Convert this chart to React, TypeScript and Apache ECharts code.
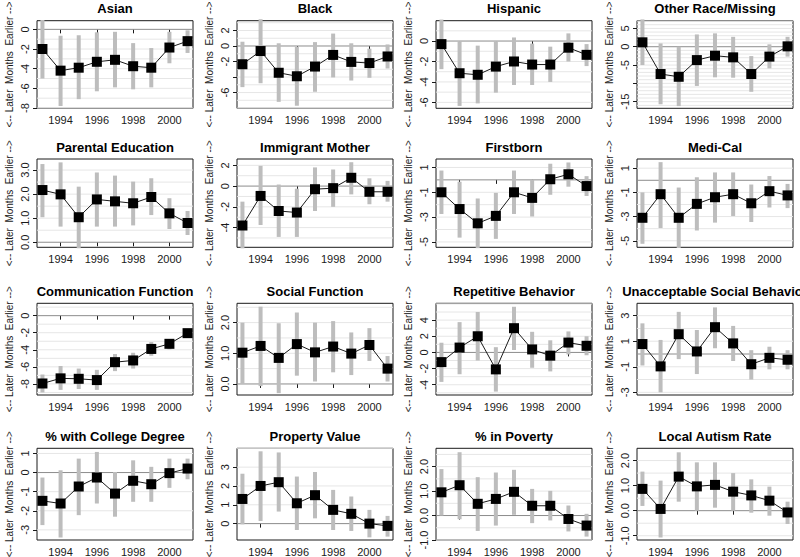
import React, { useEffect, useRef } from "react";
import * as echarts from "echarts";

const years = [1993, 1994, 1995, 1996, 1997, 1998, 1999, 2000, 2001];
const xTicks = [1994, 1996, 1998, 2000];

const asianEst = [-2.0, -4.2, -3.9, -3.3, -3.1, -3.75, -3.9, -1.85, -1.2];
const asianLo = [-5.0, -7.8, -7.1, -6.3, -5.9, -6.1, -5.9, -3.45, -2.4];
const asianHi = [0.95, -0.65, -0.6, -0.3, -0.25, -1.4, -1.9, -0.25, -0.1];

const blackEst = [-2.35, -0.65, -3.45, -3.9, -2.65, -1.15, -2.05, -2.2, -1.35];
const blackLo = [-5.3, -4.8, -7.2, -7.7, -5.9, -4.05, -4.45, -4.1, -2.9];
const blackHi = [0.55, 3.45, 0.35, -0.1, 0.5, 1.6, 0.35, -0.35, 0.2];

const hispEst = [-0.3, -3.15, -3.3, -2.5, -2.0, -2.3, -2.3, -0.65, -1.35];
const hispLo = [-2.75, -6.35, -6.1, -5.05, -4.3, -4.3, -4.0, -2.0, -2.45];
const hispHi = [2.1, 0, -0.45, 0, 0.35, -0.25, -0.55, 0.75, -0.3];

const otherEst = [1.2, -7.45, -8.2, -3.65, -2.45, -2.9, -7.45, -2.7, 0.1];
const otherLo = [-5.0, -15.7, -16.2, -10.7, -8.35, -8.45, -12.3, -5.9, -2.7];
const otherHi = [7.45, 0.9, 0, 3.35, 3.65, 2.7, -2.55, 0.65, 2.7];

const parentEst = [2.17, 1.99, 1.04, 1.78, 1.7, 1.62, 1.88, 1.2, 0.8];
const parentLo = [1.04, 0.65, -0.25, 0.65, 0.65, 0.7, 1.13, 0.55, 0.3];
const parentHi = [3.25, 3.32, 2.31, 2.9, 2.77, 2.52, 2.66, 1.83, 1.3];

const immigEst = [-3.8, -0.95, -2.4, -2.55, -0.3, -0.2, 0.8, -0.55, -0.55];
const immigLo = [-6.0, -3.75, -4.9, -4.9, -2.4, -2.0, -0.8, -1.75, -1.5];
const immigHi = [-1.5, 1.95, 0.15, -0.25, 1.8, 1.6, 2.3, 0.75, 0.5];

const firstEst = [-1.0, -2.35, -3.5, -2.9, -1.0, -1.45, 0.05, 0.45, -0.5];
const firstLo = [-2.75, -4.65, -5.5, -4.75, -2.75, -2.95, -1.2, -0.55, -1.3];
const firstHi = [0.75, -0.15, -1.5, -1.05, 0.75, 0, 1.3, 1.4, 0.3];

const mediEst = [-3.1, -1.15, -3.1, -1.95, -1.4, -1.15, -1.9, -0.9, -1.25];
const mediLo = [-5.25, -3.95, -5.6, -4.15, -3.5, -2.95, -3.45, -2.25, -2.3];
const mediHi = [-1.0, 1.5, -0.6, 0.25, 0.65, 0.65, -0.35, 0.35, -0.3];

const commEst = [-7.95, -7.35, -7.4, -7.55, -5.45, -5.25, -3.9, -3.3, -2.05];
const commLo = [-9.0, -8.7, -8.6, -8.7, -6.5, -6.2, -4.7, -3.95, -2.55];
const commHi = [-6.9, -5.9, -6.2, -6.35, -4.5, -4.35, -3.1, -2.75, -1.7];

const socEst = [1.02, 1.24, 0.85, 1.3, 1.03, 1.22, 0.99, 1.27, 0.5];
const socLo = [0, -0.07, -0.3, 0.27, 0.08, 0.38, 0.29, 0.75, 0.08];
const socHi = [2.0, 2.52, 1.98, 2.33, 2.0, 2.05, 1.68, 1.82, 0.91];

const repEst = [-1.2, 0.6, 2.0, -2.1, 3.0, 0.37, -0.4, 1.22, 0.82];
const repLo = [-3.65, -2.7, -1.0, -4.85, 0.3, -1.9, -2.35, -0.25, -0.35];
const repHi = [1.2, 3.75, 5.0, 0.65, 5.65, 2.55, 1.5, 2.6, 2.0];

const unaccEst = [0.78, -0.97, 1.55, 0.2, 2.1, 0.83, -0.8, -0.3, -0.45];
const unaccLo = [-0.9, -3.0, -0.4, -1.57, 0.45, -0.55, -2.0, -1.2, -1.2];
const unaccHi = [2.4, 1.1, 3.3, 1.88, 3.65, 2.2, 0.3, 0.57, 0.3];

const collEst = [-1.48, -1.62, -0.73, -0.26, -1.1, -0.43, -0.61, -0.03, 0.21];
const collLo = [-2.75, -3.4, -2.23, -1.62, -2.31, -1.53, -1.53, -0.8, -0.35];
const collHi = [-0.26, 0.12, 0.73, 1.08, 0.03, 0.64, 0.3, 0.73, 0.73];

const propEst = [1.31, 2.0, 2.2, 1.08, 1.51, 0.73, 0.52, 0.0, -0.12];
const propLo = [-0.04, 0.14, 0.64, -0.34, 0.28, -0.34, -0.39, -0.73, -0.69];
const propHi = [2.65, 3.84, 3.78, 2.5, 2.74, 1.79, 1.44, 0.73, 0.41];

const povEst = [0.95, 1.24, 0.48, 0.68, 0.97, 0.4, 0.4, -0.14, -0.41];
const povLo = [0, -0.15, -0.63, -0.41, 0.03, -0.31, -0.2, -0.65, -0.86];
const povHi = [1.9, 2.59, 1.57, 1.76, 1.87, 1.09, 1.01, 0.41, 0.07];

const autEst = [0.87, 0.07, 1.36, 0.97, 1.03, 0.76, 0.61, 0.4, -0.07];
const autLo = [0.19, -1.07, 0.36, 0, 0.12, 0, -0.08, -0.2, -0.53];
const autHi = [1.56, 1.2, 2.33, 1.93, 1.93, 1.5, 1.25, 0.96, 0.36];

type Panel = {
  title: string;
  est: number[];
  lo: number[];
  hi: number[];
  yMin: number;
  yMax: number;
  ticks: number[];
  labels: number[];
  dec: boolean;
};

const panels: Panel[] = [
  { title: "Asian", est: asianEst, lo: asianLo, hi: asianHi, yMin: -8.03, yMax: 0.88, ticks: [0, -2, -4, -6, -8], labels: [0, -2, -4, -6, -8], dec: false },
  { title: "Black", est: blackEst, lo: blackLo, hi: blackHi, yMin: -8.03, yMax: 3.26, ticks: [2, 0, -2, -4, -6], labels: [2, 0, -2, -6], dec: false },
  { title: "Hispanic", est: hispEst, lo: hispLo, hi: hispHi, yMin: -6.58, yMax: 1.99, ticks: [2, 0, -2, -4, -6], labels: [2, 0, -2, -4, -6], dec: false },
  { title: "Other Race/Missing", est: otherEst, lo: otherLo, hi: otherHi, yMin: -16.8, yMax: 7.1, ticks: [5, 0, -5, -10, -15], labels: [5, 0, -5, -15], dec: false },
  { title: "Parental Education", est: parentEst, lo: parentLo, hi: parentHi, yMin: -0.21, yMax: 3.46, ticks: [0, 1, 2, 3], labels: [0, 1, 2, 3], dec: true },
  { title: "Immigrant Mother", est: immigEst, lo: immigLo, hi: immigHi, yMin: -5.9, yMax: 2.61, ticks: [2, 0, -2, -4, -6], labels: [2, 0, -2, -4, -6], dec: false },
  { title: "Firstborn", est: firstEst, lo: firstLo, hi: firstHi, yMin: -5.43, yMax: 1.68, ticks: [1, -1, -3, -5], labels: [1, -1, -3, -5], dec: false },
  { title: "Medi-Cal", est: mediEst, lo: mediLo, hi: mediHi, yMin: -5.54, yMax: 1.76, ticks: [1, -1, -3, -5], labels: [1, -1, -3, -5], dec: false },
  { title: "Communication Function", est: commEst, lo: commLo, hi: commHi, yMin: -9.3, yMax: 1.45, ticks: [0, -2, -4, -6, -8], labels: [0, -2, -4, -6, -8], dec: false },
  { title: "Social Function", est: socEst, lo: socLo, hi: socHi, yMin: -0.36, yMax: 2.63, ticks: [0, 1, 2], labels: [0, 1, 2], dec: true },
  { title: "Repetitive Behavior", est: repEst, lo: repLo, hi: repHi, yMin: -5.27, yMax: 6.08, ticks: [4, 2, 0, -2, -4], labels: [4, 2, 0, -2, -4], dec: false },
  { title: "Unacceptable Social Behavior", est: unaccEst, lo: unaccLo, hi: unaccHi, yMin: -3.21, yMax: 3.97, ticks: [3, 1, -1, -3], labels: [3, 1, -1, -3], dec: false },
  { title: "% with College Degree", est: collEst, lo: collLo, hi: collHi, yMin: -3.53, yMax: 1.27, ticks: [1, 0, -1, -2, -3], labels: [1, 0, -1, -2, -3], dec: false },
  { title: "Property Value", est: propEst, lo: propLo, hi: propHi, yMin: -0.87, yMax: 4.0, ticks: [3, 2, 1, 0], labels: [3, 2, 1, 0], dec: false },
  { title: "% in Poverty", est: povEst, lo: povLo, hi: povHi, yMin: -1.0, yMax: 2.75, ticks: [2, 1, 0, -1], labels: [2, 1, 0, -1], dec: true },
  { title: "Local Autism Rate", est: autEst, lo: autLo, hi: autHi, yMin: -1.17, yMax: 2.49, ticks: [2, 1, 0, -1], labels: [2, 1, 0, -1], dec: true },
];

const colLeft = [37, 237, 436, 637];
const boxW = 156;
const rowTop = [20.7, 159, 303.3, 448.3];
const rowH = [87.6, 88.3, 91.7, 91.7];
const FONT = "Liberation Sans, Arial, Helvetica, sans-serif";
const INK = "#1a1a1a";

function gridValues(p: Panel): number[][] {
  const step = p.dec ? 0.5 : 1;
  const out: number[][] = [];
  for (let v = Math.ceil(p.yMin / step) * step; v <= p.yMax + 1e-9; v += step) {
    const r = Math.round(v * 100) / 100;
    out.push([1997, r, Math.abs(r) < 1e-9 ? 1 : 0]);
  }
  return out;
}

export default function App() {
  const ref = useRef<HTMLDivElement>(null);
  useEffect(() => {
    if (!ref.current) return;
    const chart = echarts.init(ref.current, undefined, { renderer: "svg" });
    const grid: any[] = [];
    const xAxis: any[] = [];
    const yAxis: any[] = [];
    const series: any[] = [];
    const graphic: any[] = [];
    panels.forEach((p, i) => {
      const c = i % 4;
      const r = Math.floor(i / 4);
      const left = colLeft[c];
      const top = rowTop[r];
      const h = rowH[r];
      grid.push({ left, top, width: boxW, height: h, show: true, borderColor: INK, borderWidth: 1, backgroundColor: "transparent" });
      xAxis.push({
        gridIndex: i, type: "value", min: 1992.7, max: 2001.3,
        axisLine: { show: false }, splitLine: { show: false },
        axisTick: { show: true, customValues: xTicks, length: 4, lineStyle: { color: INK } },
        axisLabel: { customValues: xTicks, margin: 6, fontSize: 11, color: INK, fontFamily: FONT, formatter: (v: number) => String(v) },
      });
      yAxis.push({
        gridIndex: i, type: "value", min: p.yMin, max: p.yMax,
        axisLine: { show: false }, splitLine: { show: false },
        axisTick: { show: true, customValues: p.ticks, length: 4, lineStyle: { color: INK } },
        axisLabel: {
          customValues: p.labels, rotate: 90, margin: 7, fontSize: 11, color: INK, fontFamily: FONT,
          formatter: (v: number) => (p.dec ? v.toFixed(1) : String(Math.round(v))),
        },
      });
      series.push({
        type: "custom", xAxisIndex: i, yAxisIndex: i, z: 1, silent: true,
        data: gridValues(p), encode: { x: 0, y: 1 },
        renderItem: (params: any, api: any) => {
          const y = api.coord([api.value(0), api.value(1)])[1];
          const cs = params.coordSys;
          const zero = api.value(2) === 1;
          return {
            type: "line",
            shape: { x1: cs.x, y1: y, x2: cs.x + cs.width, y2: y },
            style: { stroke: zero ? "#8c8c8c" : "#e6e6e6", lineWidth: 1 },
          };
        },
      });
      series.push({
        type: "custom", xAxisIndex: i, yAxisIndex: i, z: 2, silent: true, clip: false,
        data: years.map((yr, j) => [yr, p.lo[j], p.hi[j]]), encode: { x: 0, y: [1, 2] },
        renderItem: (params: any, api: any) => {
          const a = api.coord([api.value(0), api.value(1)]);
          const b = api.coord([api.value(0), api.value(2)]);
          return { type: "line", shape: { x1: a[0], y1: a[1], x2: b[0], y2: b[1] }, style: { stroke: "#bdbdbd", lineWidth: 4 } };
        },
      });
      series.push({
        type: "line", xAxisIndex: i, yAxisIndex: i, z: 3, silent: true,
        data: years.map((yr, j) => [yr, p.est[j]]),
        symbol: "rect", symbolSize: 10, showSymbol: true,
        lineStyle: { color: INK, width: 1 }, itemStyle: { color: "#000" },
      });
      graphic.push({
        type: "text", x: left + boxW / 2, y: top - 12, silent: true,
        style: { text: p.title, fill: "#000", font: `bold 13px ${FONT}`, textAlign: "center", textVerticalAlign: "middle" },
      });
      graphic.push({
        type: "text", x: left - 28, y: top + h / 2, rotation: Math.PI / 2, silent: true,
        style: { text: "<-- Later\u00a0\u00a0Months\u00a0\u00a0Earlier -->", fill: INK, font: `10px ${FONT}`, textAlign: "center", textVerticalAlign: "middle" },
      });
    });
    chart.setOption({ animation: false, backgroundColor: "#fff", grid, xAxis, yAxis, series, graphic });
    return () => chart.dispose();
  }, []);
  return <div ref={ref} style={{ position: "fixed", left: 0, top: 0, width: 800, height: 557 }} />;
}
